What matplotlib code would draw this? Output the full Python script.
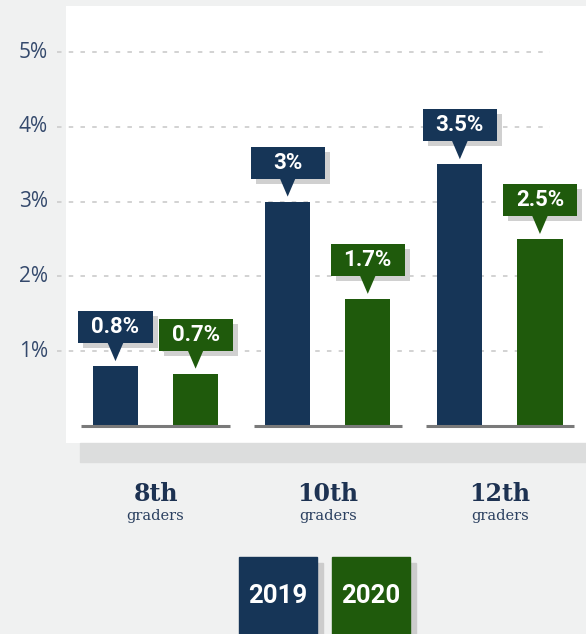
import matplotlib
matplotlib.use("Agg")
import matplotlib.pyplot as plt
from matplotlib.patches import Rectangle, Polygon
import numpy as np

# data
grades = ["8th", "10th", "12th"]
years = ["2019", "2020"]
rate_2019 = [0.8, 3.0, 3.5]
rate_2020 = [0.7, 1.7, 2.5]
y_ticks = [1, 2, 3, 4, 5]

navy = "#163557"
green = "#1f5a0c"
text_navy = "#1d3252"
tick_col = "#34496c"

W, H = 586, 634
fig = plt.figure(figsize=(W / 100, H / 100), dpi=100)
fig.patch.set_facecolor("#f0f1f1")


def fx(px):
    return px / W


def fy(py):
    return 1 - py / H


# gray strip under the white panel
fig.patches.append(Rectangle((fx(80), fy(462)), (586 - 80) / W, (462 - 443) / H,
                             transform=fig.transFigure, color="#dcdddd", zorder=0))

# white panel = the plotting axes
ax = fig.add_axes([fx(66), fy(443), (586 - 66) / W, (443 - 6) / H])
ax.set_facecolor("white")
ax.set_xlim(-0.52, 2.50)
ax.set_ylim(-0.227, 5.615)
for s in ax.spines.values():
    s.set_visible(False)
ax.set_xticks([])
ax.set_yticks([])

# pixel -> data unit helpers
px_x = 1 / 172.0
px_y = 1 / 74.8

# grid lines + tick labels
ax.hlines(y_ticks, -0.57, 2.29, colors="#cfcfcf", lw=1.3,
          linestyles=(0, (2.5, 4)), clip_on=False, zorder=1)
for t in y_ticks:
    ax.text(-0.625, t, f"{t}%", ha="right", va="center", fontsize=15,
            color=tick_col, family="Open Sans")

# bars
x = np.arange(len(grades))
off = 0.2326
bw = 0.262
ax.bar(x - off, rate_2019, bw, color=navy, zorder=2)
ax.bar(x + off, rate_2020, bw, color=green, zorder=2)

# baseline under each group
ax.hlines([0] * len(x), x - 0.43, x + 0.43, colors="#7a7a7a", lw=2.2, zorder=3)


def callout(xc, top, color):
    box_w = 74 * px_x
    box_h = 32 * px_y
    gap = 5 * px_y
    tri_h = 18 * px_y
    tri_hw = 8 * px_x
    y0 = top + gap + tri_h
    ax.add_patch(Rectangle((xc - box_w / 2 + 5 * px_x, y0 - 5 * px_y), box_w, box_h,
                           color="#d0d0d0", zorder=4, lw=0))
    ax.add_patch(Rectangle((xc - box_w / 2, y0), box_w, box_h, color=color, zorder=5, lw=0))
    ax.add_patch(Polygon([(xc - tri_hw, y0 + 0.01), (xc + tri_hw, y0 + 0.01), (xc, top + gap)],
                         closed=True, color=color, zorder=5, lw=0))
    ax.text(xc, y0 + box_h / 2, f"{top:g}%", ha="center", va="center", color="white",
            fontsize=16, fontweight="bold", family="Roboto", zorder=6)


for xi, v in zip(x - off, rate_2019):
    callout(xi, v, navy)
for xi, v in zip(x + off, rate_2020):
    callout(xi, v, green)

# category labels below the panel
tr = ax.get_xaxis_transform()
for xi, g in zip(x, grades):
    ax.text(xi, -(494 - 443) / 437, g, transform=tr, ha="center", va="center",
            fontsize=17, fontweight="bold", family="DejaVu Serif", color=text_navy)
    ax.text(xi, -(516 - 443) / 437, "graders", transform=tr, ha="center", va="center",
            fontsize=10.5, family="DejaVu Serif", color="#2b4060")

# legend boxes
for left, yr, col in zip([239, 332], years, [navy, green]):
    fig.patches.append(Rectangle((fx(left + 6), 0), 78 / W, (634 - 563) / H,
                                 transform=fig.transFigure, color="#cccccc", zorder=1))
    fig.patches.append(Rectangle((fx(left), 0), 78 / W, (634 - 557) / H,
                                 transform=fig.transFigure, color=col, zorder=2))
    fig.text(fx(left + 39), fy(596), yr, ha="center", va="center", color="white",
             fontsize=18.5, fontweight="bold", family="Roboto", zorder=3)

fig.savefig("out.png", dpi=100, facecolor=fig.get_facecolor())
